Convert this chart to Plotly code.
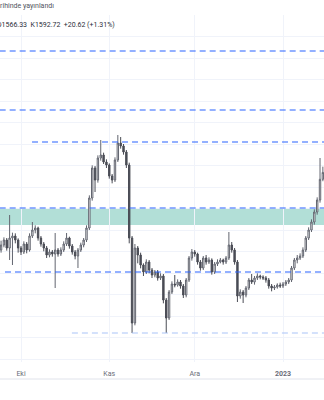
import pandas as pd
import plotly.graph_objects as go

# ---- data (daily candles) ----
dates = pd.date_range("2022-09-24", periods=114, freq="D")

opens = [1360, 1375, 1390, 1366, 1396, 1402, 1390, 1366, 1354, 1378,
         1360, 1402, 1420, 1426, 1396, 1378, 1366, 1345, 1354, 1348,
         1360, 1348, 1360, 1378, 1396, 1372, 1354, 1342, 1360, 1375,
         1390, 1426, 1516, 1606, 1570, 1636, 1645, 1624, 1615, 1582,
         1570, 1630, 1681, 1672, 1654, 1615, 1396, 1141, 1366, 1345,
         1315, 1294, 1324, 1300, 1285, 1294, 1276, 1282, 1210, 1156,
         1234, 1258, 1255, 1264, 1252, 1225, 1270, 1336, 1354, 1348,
         1324, 1306, 1336, 1324, 1330, 1294, 1318, 1324, 1330, 1324,
         1336, 1375, 1360, 1324, 1222, 1234, 1225, 1246, 1270, 1264,
         1276, 1282, 1279, 1276, 1270, 1252, 1246, 1249, 1255, 1252,
         1258, 1264, 1270, 1306, 1330, 1336, 1342, 1360, 1396, 1420,
         1444, 1474, 1510, 1572.1]

highs = [1388, 1398, 1396, 1465, 1412, 1410, 1395, 1372, 1386, 1384,
         1410, 1444, 1434, 1430, 1402, 1384, 1372, 1362, 1360, 1411,
         1366, 1368, 1386, 1411, 1400, 1378, 1360, 1366, 1382, 1396,
         1434, 1524, 1614, 1612, 1644, 1690, 1652, 1632, 1620, 1588,
         1638, 1705, 1699, 1678, 1660, 1622, 1402, 1378, 1372, 1352,
         1320, 1332, 1330, 1306, 1300, 1300, 1290, 1288, 1216, 1240,
         1266, 1285, 1272, 1270, 1258, 1276, 1342, 1363, 1360, 1352,
         1330, 1342, 1345, 1338, 1335, 1324, 1332, 1336, 1334, 1342,
         1414, 1384, 1366, 1330, 1242, 1240, 1252, 1276, 1288, 1282,
         1290, 1286, 1284, 1282, 1276, 1258, 1255, 1260, 1262, 1264,
         1270, 1276, 1312, 1336, 1345, 1350, 1368, 1402, 1428, 1452,
         1482, 1518, 1636, 1610]

lows = [1352, 1368, 1358, 1330, 1315, 1380, 1352, 1345, 1348, 1350,
        1355, 1396, 1410, 1388, 1370, 1356, 1336, 1338, 1340, 1246,
        1340, 1342, 1354, 1372, 1364, 1346, 1332, 1306, 1354, 1368,
        1384, 1420, 1508, 1534, 1562, 1628, 1618, 1606, 1574, 1560,
        1564, 1624, 1664, 1646, 1606, 1380, 1111, 1134, 1320, 1305,
        1282, 1288, 1290, 1276, 1278, 1268, 1270, 1200, 1111, 1150,
        1228, 1248, 1250, 1244, 1216, 1218, 1264, 1328, 1340, 1316,
        1298, 1300, 1316, 1318, 1286, 1288, 1312, 1320, 1316, 1318,
        1330, 1352, 1316, 1204, 1214, 1201, 1218, 1240, 1258, 1256,
        1270, 1272, 1270, 1262, 1244, 1236, 1240, 1244, 1246, 1246,
        1252, 1258, 1264, 1300, 1320, 1330, 1336, 1354, 1390, 1414,
        1436, 1466, 1502, 1566.33]

closes = [1375, 1390, 1366, 1396, 1402, 1390, 1366, 1354, 1378, 1360,
          1402, 1420, 1426, 1396, 1378, 1366, 1345, 1354, 1348, 1360,
          1348, 1360, 1378, 1396, 1372, 1354, 1342, 1360, 1375, 1390,
          1426, 1516, 1606, 1570, 1636, 1645, 1624, 1615, 1582, 1570,
          1630, 1681, 1672, 1654, 1615, 1396, 1141, 1366, 1345, 1315,
          1294, 1324, 1300, 1285, 1294, 1276, 1282, 1210, 1156, 1234,
          1258, 1255, 1264, 1252, 1225, 1270, 1336, 1354, 1348, 1324,
          1306, 1336, 1324, 1330, 1294, 1318, 1324, 1330, 1324, 1336,
          1375, 1360, 1324, 1222, 1234, 1225, 1246, 1270, 1264, 1276,
          1282, 1279, 1276, 1270, 1252, 1246, 1249, 1255, 1252, 1258,
          1264, 1270, 1306, 1330, 1336, 1342, 1360, 1396, 1420, 1444,
          1474, 1510, 1572.1, 1592.72]

# horizontal levels (price, start date, style)
level_prices = [1957, 1780, 1684, 1486, 1294, 1111]
level_starts = ["2022-09-20", "2022-09-20", "2022-10-04 21:00", "2022-09-20",
                "2022-09-25 09:00", "2022-10-18 21:00"]
level_colors = ["#2962ff", "#2962ff", "#2962ff", "#2962ff", "#2962ff", "#a9c4f7"]

zone_low, zone_high = 1435, 1486

tick_dates = ["2022-10-01", "2022-11-01", "2022-12-01", "2023-01-01"]
tick_text = ["Eki", "Kas", "Ara", "<b>2023</b>"]

x_range = ["2022-09-23 15:01", "2023-01-15 09:32"]
y_top, y_bottom = 2065, 1024
grid_step = 64.5
grid_vals = [y_top - grid_step * k for k in range(17)]

header1 = "tarihinde yayınlandı"
header2 = "D1566.33\u00a0\u00a0K1592.72\u00a0\u00a0+20.62 (+1.31%)"

# ---- figure ----
fig = go.Figure()
fig.add_trace(go.Candlestick(
    x=dates, open=opens, high=highs, low=lows, close=closes,
    increasing=dict(line=dict(color="#62656f", width=1), fillcolor="#ffffff"),
    decreasing=dict(line=dict(color="#4a4c55", width=1), fillcolor="#4a4c55"),
    whiskerwidth=0, showlegend=False, hoverinfo="skip",
))

shapes = [dict(type="rect", xref="paper", x0=0, x1=1, yref="y",
               y0=zone_low, y1=zone_high, fillcolor="#b2dfd7",
               line=dict(width=0), layer="below")]
for p, s, c in zip(level_prices, level_starts, level_colors):
    shapes.append(dict(type="line", xref="x", x0=s, x1="2023-01-20",
                       yref="y", y0=p, y1=p,
                       line=dict(color=c, width=1.2, dash="6px,4px")))
# bottom border of time scale
shapes.append(dict(type="line", xref="paper", x0=0, x1=1, yref="paper",
                   y0=-0.049, y1=-0.049, line=dict(color="#e0e3eb", width=1)))
fig.update_layout(shapes=shapes)

fig.add_annotation(text=header1, xref="paper", yref="paper",
                   x=-8 / 324, y=1 + 9 / 347, xanchor="left", yanchor="middle",
                   showarrow=False, font=dict(family="Roboto", size=7, color="#50535e"))
fig.add_annotation(text=header2, xref="paper", yref="paper",
                   x=-5.5 / 324, y=1 - 10 / 347, xanchor="left", yanchor="middle",
                   showarrow=False, font=dict(family="Roboto", size=7, color="#2a2e39"))

fig.update_layout(
    width=324, height=400,
    margin=dict(l=0, r=0, t=15, b=38),
    paper_bgcolor="white", plot_bgcolor="white",
    font=dict(family="Roboto", size=7, color="#6a6d78"),
    xaxis=dict(type="date", range=x_range, rangeslider=dict(visible=False),
               tickvals=tick_dates, ticktext=tick_text, showgrid=True,
               gridcolor="#f0f3fa", gridwidth=1, zeroline=False,
               ticks="outside", ticklen=5, tickcolor="rgba(0,0,0,0)",
               tickfont=dict(family="Roboto", size=7, color="#6a6d78"),
               showline=False, fixedrange=True),
    yaxis=dict(range=[y_bottom, y_top], tickvals=grid_vals, showticklabels=False,
               showgrid=True, gridcolor="#f0f3fa", gridwidth=1, zeroline=False,
               showline=False, ticks="", fixedrange=True),
)

fig.write_html("out.html")
